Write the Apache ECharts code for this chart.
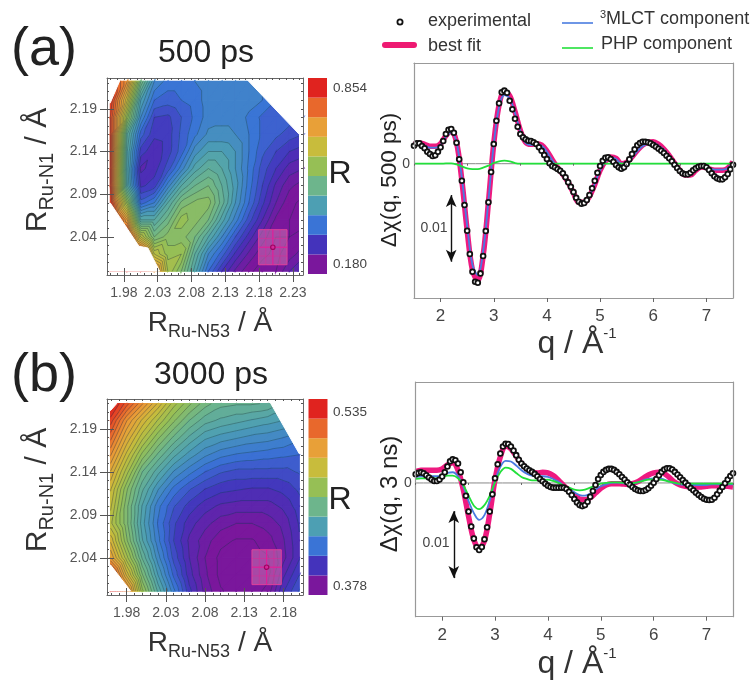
<!DOCTYPE html>
<html><head><meta charset="utf-8">
<style>html,body{margin:0;padding:0;background:#fff}#c{width:756px;height:680px}</style>
<script src="https://cdn.jsdelivr.net/npm/echarts@6/dist/echarts.min.js"></script>
</head><body><div id="c"></div>
<script>
// ---------- data: R maps ----------
const mapAx=[1.96,1.985,2.005,2.025,2.045,2.065,2.085,2.105,2.125,2.145,2.165,2.185,2.205,2.225,2.245];
const mapAy=[2.222,2.20,2.18,2.16,2.14,2.12,2.10,2.08,2.06,2.04,2.02,2.00];
const mapAr=[
[.80,.70,.50,.38,.35,.35,.36,.37,.37,.37,.37,.36,.35,.34,.33],
[.80,.62,.42,.34,.33,.34,.35,.37,.375,.375,.37,.36,.34,.33,.33],
[.78,.55,.38,.30,.295,.32,.345,.37,.375,.375,.355,.335,.335,.33,.32],
[.78,.46,.33,.285,.29,.325,.355,.385,.385,.38,.36,.335,.325,.31,.30],
[.78,.44,.29,.265,.29,.33,.39,.42,.42,.40,.36,.325,.30,.28,.27],
[.78,.43,.255,.27,.31,.37,.43,.46,.44,.40,.355,.31,.28,.25,.24],
[.78,.44,.275,.29,.37,.44,.48,.50,.46,.41,.35,.30,.255,.225,.21],
[.80,.55,.33,.36,.44,.505,.525,.53,.47,.40,.34,.285,.24,.205,.195],
[.85,.68,.44,.44,.49,.55,.53,.50,.43,.37,.31,.26,.215,.20,.19],
[.85,.80,.60,.50,.53,.53,.50,.44,.38,.32,.27,.23,.20,.20,.21],
[.85,.85,.78,.60,.55,.56,.46,.38,.33,.275,.235,.205,.195,.21,.23],
[.85,.85,.85,.72,.58,.52,.43,.34,.28,.235,.205,.19,.20,.24,.27]];
const mapBx=[1.9596,1.98,2.00,2.02,2.04,2.06,2.08,2.10,2.12,2.14,2.16,2.18,2.2002];
const mapBy=[2.2195,2.20,2.18,2.16,2.14,2.12,2.10,2.08,2.06,2.04,2.02,2.0012];
const mapBr=[
[.53,.515,.50,.485,.47,.46,.452,.447,.446,.446,.445,.44,.435],
[.52,.50,.485,.472,.46,.45,.443,.44,.438,.436,.434,.432,.43],
[.51,.49,.474,.46,.449,.44,.433,.43,.428,.426,.425,.423,.42],
[.50,.48,.462,.449,.438,.43,.424,.42,.418,.417,.416,.415,.414],
[.49,.47,.45,.438,.427,.42,.414,.41,.408,.408,.408,.408,.41],
[.482,.46,.442,.428,.417,.41,.405,.402,.401,.40,.40,.402,.406],
[.478,.456,.436,.42,.41,.403,.398,.395,.394,.394,.394,.397,.403],
[.474,.456,.434,.418,.406,.398,.393,.389,.387,.387,.389,.393,.401],
[.485,.46,.437,.42,.405,.395,.389,.384,.382,.382,.385,.391,.40],
[.495,.47,.445,.425,.408,.396,.387,.381,.38,.38,.382,.39,.40],
[.52,.485,.455,.432,.413,.398,.388,.381,.379,.379,.381,.395,.405],
[.535,.505,.465,.44,.42,.402,.39,.383,.38,.38,.384,.40,.41]];
const maskA=[
[[1.955,2.0798],[1.9598,2.0798],[2.0022,2.0291],[2.0155,2.0271],[2.0328,2.0],[1.955,2.0]],
[[1.955,2.226],[1.9736,2.226],[1.9736,2.2223],[1.9598,2.1969],[1.955,2.1969]],
[[2.16,2.226],[2.245,2.226],[2.245,2.1598],[2.2398,2.1598]],
[[2.2398,2.16],[2.245,2.16],[2.245,1.9955],[2.2398,1.9955]]];
const maskB=[
[[1.955,2.0315],[1.9596,2.0315],[1.9851,2.0012],[1.955,2.0012]],
[[1.955,2.225],[1.9672,2.225],[1.9672,2.2195],[1.9596,2.2117],[1.955,2.2117]],
[[2.1607,2.225],[2.205,2.225],[2.205,2.1613],[2.2002,2.1613]]];
const bestA=[2.2004,2.028], bestAh=[.021,.0205];
const bestB=[2.1586,2.029], bestBh=[.0187,.0203];
const palette=['#7a179c','#4433bb','#3a74d6','#4d9fb3','#6db58c','#96bf55','#c8bc3c','#e8a038','#e8682c','#e0231f'];
const rangeA=[.18,.854], rangeB=[.378,.535];
const levelStepA=.02, levelStepB=.0045;
const ticksAx=[1.98,2.03,2.08,2.13,2.18,2.23], ticksAy=[2.04,2.09,2.14,2.19];
const ticksBx=[1.98,2.03,2.08,2.13,2.18], ticksBy=[2.04,2.09,2.14,2.19];
const minorAx=[1.96,1.97,1.99,2.00,2.01,2.02,2.04,2.05,2.06,2.07,2.09,2.10,2.11,2.12,2.14,2.15,2.16,2.17,2.19,2.20,2.21,2.22,2.24];
const minorAy=[2.00,2.01,2.02,2.03,2.05,2.06,2.07,2.08,2.10,2.11,2.12,2.13,2.15,2.16,2.17,2.18,2.20,2.21,2.22];
const minorBx=[1.96,1.97,1.99,2.00,2.01,2.02,2.04,2.05,2.06,2.07,2.09,2.10,2.11,2.12,2.14,2.15,2.16,2.17,2.19,2.20];
// ---------- data: delta-chi curves (units of 0.001) ----------
const qExp=[1.5,1.55,1.6,1.65,1.7,1.75,1.8,1.85,1.9,1.95,2,2.05,2.1,2.15,2.2,2.25,2.3,2.35,2.4,2.45,2.5,2.55,2.6,2.65,2.7,2.75,2.8,2.85,2.9,2.95,3,3.05,3.1,3.15,3.2,3.25,3.3,3.35,3.4,3.45,3.5,3.55,3.6,3.65,3.7,3.75,3.8,3.85,3.9,3.95,4,4.05,4.1,4.15,4.2,4.25,4.3,4.35,4.4,4.45,4.5,4.55,4.6,4.65,4.7,4.75,4.8,4.85,4.9,4.95,5,5.05,5.1,5.15,5.2,5.25,5.3,5.35,5.4,5.45,5.5,5.55,5.6,5.65,5.7,5.75,5.8,5.85,5.9,5.95,6,6.05,6.1,6.15,6.2,6.25,6.3,6.35,6.4,6.45,6.5,6.55,6.6,6.65,6.7,6.75,6.8,6.85,6.9,6.95,7,7.05,7.1,7.15,7.2,7.25,7.3,7.35,7.4,7.45,7.5];
const qFit=[1.5,1.6,1.7,1.8,1.9,2,2.1,2.2,2.3,2.4,2.5,2.6,2.7,2.8,2.9,3,3.1,3.2,3.3,3.4,3.5,3.6,3.7,3.8,3.9,4,4.1,4.2,4.3,4.4,4.5,4.6,4.7,4.8,4.9,5,5.1,5.2,5.3,5.4,5.5,5.6,5.7,5.8,5.9,6,6.1,6.2,6.3,6.4,6.5,6.6,6.7,6.8,6.9,7,7.1,7.2,7.3,7.4,7.5];
const expA=[2.7,3.05,3.05,2.65,2.3,1.8,1.45,1.15,1.25,1.8,2.45,3.4,4.45,5.1,5.2,4.65,3.15,.65,-2.55,-6.2,-10.05,-13.55,-16.2,-17.7,-17.85,-16.45,-13.85,-10.1,-5.8,-1.25,2.95,6.45,9.05,10.7,10.95,10.65,9.45,8.15,6.75,5.55,4.45,3.95,3.65,3.45,3.4,3.2,2.95,2.45,1.95,1.3,.7,.05,-.35,-.55,-.8,-1.05,-1.45,-2.05,-2.8,-3.45,-4.25,-5.1,-5.7,-6,-5.9,-5.45,-4.7,-3.7,-2.55,-1.35,-.35,.45,.9,.95,.7,.3,-.2,-.55,-.75,-.55,-.05,.65,1.45,2.15,2.75,3.1,3.3,3.3,3.2,3.05,2.8,2.55,2.25,1.95,1.6,1.2,.8,.35,-.15,-.65,-1.1,-1.45,-1.6,-1.6,-1.35,-1,-.7,-.45,-.35,-.35,-.55,-.95,-1.45,-1.9,-2.2,-2.35,-2.35,-2.05,-1.55,-.85,-.15];
const fitA=[2.9,3.1,2.9,2.6,2.6,3,4.2,4.9,3.2,-2.5,-10,-16,-17.5,-13.8,-5.8,3,8.8,10.8,10.2,7.8,5,3.2,2.9,3,2.8,1.9,.6,-.6,-1.6,-2.8,-4.4,-5.8,-5.8,-4.9,-3.1,-1,.4,1,.8,0,.2,1,2,2.8,3.2,3.3,2.9,2.2,1.2,.1,-1,-1.7,-1.7,-1,-.5,-.6,-.9,-1,-1,-.7,.3];
const mlctA=[2.7,2.9,2.7,2.4,2.4,2.8,4,4.7,3.2,-2.1,-9.3,-15.2,-16.7,-13.2,-5.5,2.9,8.5,10.3,9.8,7.6,4.9,3.1,2.8,2.9,2.7,1.8,.5,-.6,-1.6,-2.8,-4.3,-5.7,-5.7,-4.8,-3,-1,.3,.9,.7,0,.1,.9,1.9,2.6,3,3.1,2.7,2.1,1.1,.1,-1,-1.6,-1.6,-1,-.5,-.6,-.8,-.9,-.9,-.7,.2];
const phpA=[0,0,0,0,0,0,.05,.05,-.1,-.4,-.7,-.8,-.8,-.6,-.3,.1,.35,.45,.35,.1,0,0,0,0,0,0,0,0,0,0,0,0,0,0,0,0,0,0,0,0,0,0,0,0,0,0,0,0,0,0,0,0,0,0,0,0,0,0,0,0,0];
const expB=[1.3,1.5,1.6,1.45,1.15,.8,.5,.3,.3,.5,.95,1.6,2.45,3.25,3.55,3.4,2.9,1.6,.1,-1.9,-4.25,-6.5,-8.3,-9.6,-10,-9.55,-8.4,-6.6,-4.25,-1.7,.7,2.8,4.4,5.45,5.85,5.8,5.45,4.85,4.15,3.45,2.9,2.5,2.15,1.9,1.65,1.35,1,.6,.25,-.1,-.4,-.6,-.7,-.7,-.7,-.7,-.7,-.9,-1.3,-1.8,-2.4,-2.9,-3.3,-3.45,-3.3,-2.8,-2.05,-1.2,-.3,.6,1.2,1.65,1.95,2.1,2.1,1.95,1.65,1.3,.9,.5,.1,-.25,-.6,-.9,-1.1,-1.2,-1.2,-1.05,-.8,-.4,.05,.6,1.15,1.65,2,2.2,2.2,2,1.65,1.25,.85,.45,.05,-.35,-.75,-1.1,-1.45,-1.8,-2.1,-2.35,-2.5,-2.55,-2.5,-2.2,-1.7,-1.15,-.6,-.05,.5,1.05,1.45];
const fitB=[1.7,1.9,1.9,1.9,1.9,2.1,2.7,3,1.9,-1,-5,-8.5,-9.8,-8.6,-4.6,.5,3.9,5.5,5.1,4,2.9,2.1,1.6,1.5,1.6,1.5,1.1,.4,-.4,-1.1,-1.8,-2.4,-2.5,-2.2,-1.5,-.8,-.3,-.1,-.1,-.15,-.2,-.1,.2,.7,1.2,1.5,1.6,1.4,.8,.1,-.3,-.5,-.6,-.6,-.6,-.5,-.4,-.4,-.4,-.5,-.6];
const mlctB=[.9,1,1,1,1,1.2,1.5,1.6,1,-.5,-2.7,-4.5,-5.5,-4.8,-2.6,.3,2.4,3.3,3.2,2.6,1.9,1.4,1.1,1,1,.9,.6,.2,-.4,-.9,-1.4,-1.8,-1.9,-1.6,-1,-.5,-.2,0,.05,0,-.1,-.05,.1,.4,.6,.7,.7,.5,.2,-.05,-.2,-.3,-.3,-.3,-.3,-.3,-.2,-.2,-.2,-.2,-.2];
const phpB=[.6,.7,.7,.7,.7,.9,1.1,1.1,.7,-.3,-1.9,-3.4,-3.9,-3.3,-1.9,.1,1.6,2.3,2.1,1.5,.9,.6,.4,.4,.45,.5,.3,0,-.4,-.7,-1,-1.1,-1,-.7,-.4,-.1,0,.1,.1,.05,0,0,.1,.3,.5,.55,.5,.4,.2,.05,-.1,-.1,-.1,-.1,-.1,-.1,-.1,-.1,-.1,-.1,-.1];
const qMajor=[2,3,4,5,6,7], qMinor=[1.5,2.5,3.5,4.5,5.5,6.5,7.5];
const titlesTxt={a:'(a)',b:'(b)',ta:'500 ps',tb:'3000 ps',ya:'Δχ(q, 500 ps)',yb:'Δχ(q, 3 ns)'};

// ---------- helpers ----------
const FF='"Liberation Sans",Arial,sans-serif';
function hex(c){return [1,3,5].map(i=>parseInt(c.substr(i,2),16));}
function colorAt(t){
  const n=palette.length,p=Math.max(0,Math.min(n-1,t*n-.5)),i=Math.floor(p),f=p-i;
  const a=hex(palette[i]),b=hex(palette[Math.min(n-1,i+1)]);
  return 'rgb('+a.map((v,k)=>Math.round(v+(b[k]-v)*f)).join(',')+')';
}
function triangles(xs,ys,rs){
  const t=[];
  for(let j=0;j<ys.length-1;j++)for(let i=0;i<xs.length-1;i++){
    const P=(a,b)=>[xs[a],ys[b],rs[b][a]];
    t.push([P(i,j),P(i+1,j),P(i,j+1)]);
    t.push([P(i+1,j),P(i+1,j+1),P(i,j+1)]);
  }
  return t;
}
function clipZ(poly,L,keepAbove){
  const out=[];
  for(let i=0;i<poly.length;i++){
    const a=poly[i],b=poly[(i+1)%poly.length];
    const ina=keepAbove?a[2]>=L:a[2]<=L, inb=keepAbove?b[2]>=L:b[2]<=L;
    if(ina)out.push(a);
    if(ina!==inb){const f=(L-a[2])/(b[2]-a[2]);out.push([a[0]+(b[0]-a[0])*f,a[1]+(b[1]-a[1])*f,L]);}
  }
  return out;
}
function levels(range,step){const l=[];const n=Math.ceil((range[1]-range[0])/step);for(let i=-1;i<=n+1;i++)l.push(range[0]+i*step);return l;}
function mapSeries(xs,ys,rs,range,step,mask,best,bh,idx){
  const tris=triangles(xs,ys,rs),ls=levels(range,step);
  const base={type:'custom',coordinateSystem:'cartesian2d',xAxisIndex:idx,yAxisIndex:idx,silent:true,clip:false,animation:false};
  return [
    Object.assign({},base,{name:'R fill',z:2,data:tris.map((_,i)=>[i]),encode:{x:-1,y:-1},
      renderItem(p,api){
        const tr=tris[api.value(0)],ch=[];
        const zmin=Math.min(tr[0][2],tr[1][2],tr[2][2]),zmax=Math.max(tr[0][2],tr[1][2],tr[2][2]);
        for(let k=0;k<ls.length-1;k++){
          if(ls[k+1]<zmin||ls[k]>zmax)continue;
          const g=clipZ(clipZ(tr,ls[k],true),ls[k+1],false);
          if(g.length<3)continue;
          const col=colorAt(((ls[k]+ls[k+1])/2-range[0])/(range[1]-range[0]));
          ch.push({type:'polygon',shape:{points:g.map(v=>api.coord([v[0],v[1]]))},style:{fill:col,stroke:col,lineWidth:1.2}});
        }
        return {type:'group',children:ch};
      }}),
    Object.assign({},base,{name:'R contours',z:3,data:tris.map((_,i)=>[i]),encode:{x:-1,y:-1},
      renderItem(p,api){
        const tr=tris[api.value(0)],ch=[];
        ls.forEach(L=>{
          const pts=[];
          for(let i=0;i<3;i++){const a=tr[i],b=tr[(i+1)%3];
            if((a[2]<L)!==(b[2]<L)){const f=(L-a[2])/(b[2]-a[2]);pts.push(api.coord([a[0]+(b[0]-a[0])*f,a[1]+(b[1]-a[1])*f]));}}
          if(pts.length===2)ch.push({type:'line',shape:{x1:pts[0][0],y1:pts[0][1],x2:pts[1][0],y2:pts[1][1]},style:{stroke:'rgba(20,50,70,.45)',lineWidth:.8}});
        });
        return {type:'group',children:ch};
      }}),
    Object.assign({},base,{name:'mask',z:4,data:mask.map((_,i)=>[i]),encode:{x:-1,y:-1},
      renderItem(p,api){return {type:'polygon',shape:{points:mask[api.value(0)].map(v=>api.coord(v))},style:{fill:'#fff',stroke:'#fff',lineWidth:1}};}}),
    Object.assign({},base,{name:'best',z:5,data:[[best[0],best[1],bh[0],bh[1]]],
      renderItem(p,api){
        const x=api.value(0),y=api.value(1),w=api.value(2),h=api.value(3);
        const c=(a,b)=>api.coord([a,b]);
        const tl=c(x-w,y+h),br=c(x+w,y-h),ct=c(x,y);
        const L=(a,b,lw,col)=>({type:'line',shape:{x1:a[0],y1:a[1],x2:b[0],y2:b[1]},style:{stroke:col,lineWidth:lw}});
        const W=br[0]-tl[0],H=br[1]-tl[1],ch=[
          {type:'rect',shape:{x:tl[0],y:tl[1],width:W,height:H},style:{fill:'rgba(205,115,175,.55)',stroke:'#e0409a',lineWidth:1}},
          L([tl[0]+W*.25,tl[1]],[tl[0]+W*.25,br[1]],.8,'rgba(224,40,150,.6)'),
          L([tl[0]+W*.75,tl[1]],[tl[0]+W*.75,br[1]],.8,'rgba(224,40,150,.6)'),
          L([tl[0],tl[1]+H*.25],[br[0],tl[1]+H*.25],.8,'rgba(224,40,150,.6)'),
          L([tl[0],tl[1]+H*.75],[br[0],tl[1]+H*.75],.8,'rgba(224,40,150,.6)'),
          L([ct[0],tl[1]],[ct[0],br[1]],1.2,'#e0209a'),
          L([tl[0],ct[1]],[br[0],ct[1]],1.2,'#e0209a'),
          {type:'circle',shape:{cx:ct[0],cy:ct[1],r:2.2},style:{fill:'rgba(0,0,0,0)',stroke:'#a00060',lineWidth:1.2}}];
        return {type:'group',children:ch};
      }})
  ];
}
function fmt2(v){return v.toFixed(2);}
const grids=[],xAxes=[],yAxes=[],series=[];
const frameCol='#666', lineFrame='#999';
function addMap(rect,xr,yr,tx,ty,mx,my,xs,ys,rs,range,step,mask,best,bh){
  const i=grids.length;
  grids.push(Object.assign({},rect,{containLabel:false}));
  const lab={fontFamily:FF,fontSize:14,color:'#555'};
  xAxes.push({gridIndex:i,type:'value',position:'bottom',min:xr[0],max:xr[1],z:10,splitLine:{show:false},axisLine:{onZero:false,lineStyle:{color:frameCol}},
    axisTick:{customValues:tx,length:7,lineStyle:{color:'#555'}},axisLabel:{customValues:tx,formatter:fmt2,margin:11,...lab}});
  yAxes.push({gridIndex:i,type:'value',position:'left',min:yr[0],max:yr[1],z:10,splitLine:{show:false},axisLine:{onZero:false,lineStyle:{color:frameCol}},
    axisTick:{customValues:ty,length:7,lineStyle:{color:'#555'}},axisLabel:{customValues:ty,formatter:fmt2,margin:10,...lab}});
  mapSeries(xs,ys,rs,range,step,mask,best,bh,i).forEach(s=>series.push(s));
  const j=grids.length;
  grids.push(Object.assign({},rect));
  const minor=(v)=>({customValues:v,length:2,inside:true,lineStyle:{color:'#555'}});
  xAxes.push({gridIndex:j,type:'value',position:'top',min:xr[0],max:xr[1],z:10,splitLine:{show:false},axisLine:{onZero:false,lineStyle:{color:frameCol}},
    axisTick:minor(mx.concat(tx)),axisLabel:{show:false}});
  yAxes.push({gridIndex:j,type:'value',position:'right',min:yr[0],max:yr[1],z:10,splitLine:{show:false},axisLine:{onZero:false,lineStyle:{color:frameCol}},
    axisTick:minor(my.concat(ty)),axisLabel:{show:false}});
  const k=grids.length;
  grids.push(Object.assign({},rect));
  xAxes.push({gridIndex:k,type:'value',position:'bottom',min:xr[0],max:xr[1],z:10,splitLine:{show:false},axisLine:{show:false},
    axisTick:{customValues:mx,length:2,inside:true,lineStyle:{color:'#555'}},axisLabel:{show:false}});
  yAxes.push({gridIndex:k,type:'value',position:'left',min:yr[0],max:yr[1],z:10,splitLine:{show:false},axisLine:{show:false},
    axisTick:{customValues:my,length:2,inside:true,lineStyle:{color:'#555'}},axisLabel:{show:false}});
  series.push({type:'line',xAxisIndex:j,yAxisIndex:j,data:[],silent:true});
  series.push({type:'line',xAxisIndex:k,yAxisIndex:k,data:[],silent:true});
  const k2=grids.length;
  grids.push(Object.assign({},rect));
  xAxes.push({gridIndex:k2,type:'value',position:'bottom',min:xr[0],max:xr[1],z:10,splitLine:{show:false},axisLine:{show:false},
    axisTick:{customValues:tx,length:7,inside:true,lineStyle:{color:'#555'}},axisLabel:{show:false}});
  yAxes.push({gridIndex:k2,type:'value',position:'left',min:yr[0],max:yr[1],z:10,splitLine:{show:false},axisLine:{show:false},
    axisTick:{customValues:ty,length:7,inside:true,lineStyle:{color:'#555'}},axisLabel:{show:false}});
  series.push({type:'line',xAxisIndex:k2,yAxisIndex:k2,data:[],silent:true});
}
function addBar(rect){
  const i=grids.length,cats=palette.map((_,n)=>n);
  grids.push(rect);
  xAxes.push({gridIndex:i,type:'value',min:0,max:1,show:false});
  yAxes.push({gridIndex:i,type:'category',data:cats,show:false});
  series.push({type:'bar',name:'scale',xAxisIndex:i,yAxisIndex:i,barWidth:'100%',silent:true,
    data:palette.map(c=>({value:1,itemStyle:{color:c}}))});
}
function addCurve(rect,yr,qe,e,f,m,ph,arrow){
  const i=grids.length;
  grids.push(rect);
  const lab={fontFamily:FF,color:'#444'};
  xAxes.push({gridIndex:i,type:'value',position:'bottom',min:1.5,max:7.5,z:10,splitLine:{show:false},axisLine:{onZero:false,lineStyle:{color:lineFrame,width:1.2}},
    axisTick:{customValues:qMajor,length:4,lineStyle:{color:'#666'}},axisLabel:{customValues:qMajor,fontSize:17,margin:10,...lab}});
  yAxes.push({gridIndex:i,type:'value',position:'left',min:yr[0],max:yr[1],z:10,splitLine:{show:false},axisLine:{onZero:false,lineStyle:{color:lineFrame,width:1.2}},
    axisTick:{show:false},axisLabel:{customValues:[0],fontSize:14,margin:4,...lab}});
  const pair=(q,v)=>q.map((x,n)=>[x,v[n]]);
  const ln=(name,q,v,col,w,z)=>({type:'line',name,xAxisIndex:i,yAxisIndex:i,data:pair(q,v),smooth:.35,showSymbol:false,symbol:'none',silent:true,z,lineStyle:{color:col,width:w}});
  series.push(ln('zero',[1.5,7.5],[0,0],'#888',1,2));
  series.push(Object.assign(ln('best fit',qFit,f,'#ee1a80',5.5,3),{
    markLine:{silent:true,animation:false,symbol:['arrow','arrow'],symbolSize:[8,12],label:{show:false},lineStyle:{color:'#111',width:1.4,type:'solid'},
      data:[[{coord:[arrow[0],arrow[1]]},{coord:[arrow[0],arrow[2]]}]]}}));
  series.push(ln('3MLCT component',qFit,m,'#4a7be0',1.8,4));
  series.push(ln('PHP component',qFit,ph,'#22e03a',1.8,5));
  series.push({type:'scatter',name:'experimental',xAxisIndex:i,yAxisIndex:i,data:pair(qe,e),symbol:'circle',symbolSize:4.8,silent:true,z:6,
    itemStyle:{color:'#fff',borderColor:'#111',borderWidth:1.8,opacity:1}});
  const j=grids.length;
  grids.push(rect);
  xAxes.push({gridIndex:j,type:'value',position:'top',min:1.5,max:7.5,z:10,splitLine:{show:false},axisLine:{onZero:false,lineStyle:{color:lineFrame,width:1.2}},axisTick:{show:false},axisLabel:{show:false}});
  yAxes.push({gridIndex:j,type:'value',position:'right',min:yr[0],max:yr[1],z:10,splitLine:{show:false},axisLine:{onZero:false,lineStyle:{color:lineFrame,width:1.2}},axisTick:{show:false},axisLabel:{show:false}});
  series.push({type:'line',xAxisIndex:j,yAxisIndex:j,data:[],silent:true});
  const k=grids.length;
  grids.push(rect);
  xAxes.push({gridIndex:k,type:'value',position:'bottom',min:1.5,max:7.5,z:10,splitLine:{show:false},axisLine:{show:false},axisTick:{customValues:qMinor,length:2,lineStyle:{color:'#666'}},axisLabel:{show:false}});
  yAxes.push({gridIndex:k,type:'value',position:'left',min:yr[0],max:yr[1],show:false});
  series.push({type:'line',xAxisIndex:k,yAxisIndex:k,data:[],silent:true});
}
const rr=(l,t,r,b)=>({left:l,top:t,width:r-l,height:b-t});
addMap(rr(107,78,303,275),[1.955,2.245],[1.9955,2.226],ticksAx,ticksAy,minorAx,minorAy,mapAx,mapAy,mapAr,rangeA,levelStepA,maskA,bestA,bestAh);
addMap(rr(107,399,303,595),[1.955,2.205],[1.9966,2.225],ticksBx,ticksBy,minorBx,minorAy,mapBx,mapBy,mapBr,rangeB,levelStepB,maskB,bestB,bestBh);
addBar(rr(308,78,327,274));
addBar(rr(308.5,399,327.5,595));
addCurve(rr(414,63,733,298),[-20.14,15.1],qExp,expA,fitA,mlctA,phpA,[2.2,-4.7,-14.7]);
addCurve(rr(415.7,382,733,616.7),[-19.96,15.07],qExp,expB,fitB,mlctB,phpB,[2.22,-4.2,-14.2]);

function txt(x,y,text,size,opt){
  return Object.assign({type:'text',x,y,silent:true,z:20,style:Object.assign({text,fontFamily:FF,fontSize:size,fill:'#222',align:'center',verticalAlign:'middle'},(opt||{}).style||{})},opt&&opt.rotation?{rotation:opt.rotation}:{});
}
const axisRich=(a,b)=>({style:{rich:{
  r:{fontFamily:FF,fontSize:a,fill:'#333',verticalAlign:'middle',lineHeight:a+8},
  s:{fontFamily:FF,fontSize:b,fill:'#333',verticalAlign:'bottom',lineHeight:a+8}}}});
const qRich={style:{rich:{
  r:{fontFamily:FF,fontSize:32,fill:'#333',verticalAlign:'middle',lineHeight:36},
  s:{fontFamily:FF,fontSize:15,fill:'#333',verticalAlign:'top',lineHeight:36}}}};
const rot=Math.PI/2;
const lg={style:{align:'left',fill:'#333'}};
const graphic=[
  txt(44,50,titlesTxt.a,54),
  txt(44,376,titlesTxt.b,54),
  txt(206,53,titlesTxt.ta,32),
  txt(211,375,titlesTxt.tb,32),
  txt(340,174,'R',32),
  txt(340,500,'R',32),
  txt(350,88,'0.854',13.5,{style:{fill:'#444'}}),
  txt(350,264,'0.180',13.5,{style:{fill:'#444'}}),
  txt(350,412,'0.535',13.5,{style:{fill:'#444'}}),
  txt(350,586,'0.378',13.5,{style:{fill:'#444'}}),
  Object.assign(txt(38,170,'{r|R}{s|Ru-N1}{r| / Å}',20,axisRich(30,20)),{rotation:rot}),
  Object.assign(txt(38,490,'{r|R}{s|Ru-N1}{r| / Å}',20,axisRich(30,20)),{rotation:rot}),
  txt(210,323,'{r|R}{s|Ru-N53}{r| / Å}',20,axisRich(28,18)),
  txt(210,643,'{r|R}{s|Ru-N53}{r| / Å}',20,axisRich(28,18)),
  Object.assign(txt(390,180,titlesTxt.ya,22.5),{rotation:rot}),
  Object.assign(txt(390,494,titlesTxt.yb,24),{rotation:rot}),
  txt(577,344,'{r|q / Å}{s|-1}',30,qRich),
  txt(577,664,'{r|q / Å}{s|-1}',30,qRich),
  txt(434,228,'0.01',14,{style:{fill:'#444'}}),
  txt(436,543,'0.01',14,{style:{fill:'#444'}}),
  {type:'circle',silent:true,z:20,shape:{cx:400,cy:22,r:2.6},style:{fill:'#fff',stroke:'#111',lineWidth:1.8}},
  {type:'line',silent:true,z:20,shape:{x1:385,y1:45,x2:414,y2:45},style:{stroke:'#ee1a72',lineWidth:6,lineCap:'round'}},
  {type:'line',silent:true,z:20,shape:{x1:562,y1:23,x2:593,y2:23},style:{stroke:'#4a7be0',lineWidth:1.6}},
  {type:'line',silent:true,z:20,shape:{x1:562,y1:48,x2:593,y2:48},style:{stroke:'#22e03a',lineWidth:1.6}},
  txt(428,21,'experimental',18,lg),
  txt(428,46,'best fit',18,lg),
  txt(600,19,'{u|3}{r|MLCT component}',18,{style:{align:'left',rich:{
    u:{fontFamily:FF,fontSize:11,fill:'#333',verticalAlign:'top',lineHeight:20},
    r:{fontFamily:FF,fontSize:18,fill:'#333',verticalAlign:'middle',lineHeight:20}}}}),
  txt(601,44,'PHP component',18,lg)
];
const chart=echarts.init(document.getElementById('c'),null,{renderer:'canvas',width:756,height:680});
chart.setOption({animation:false,backgroundColor:'#fff',grid:grids,xAxis:xAxes,yAxis:yAxes,series,graphic:{elements:graphic}});
</script></body></html>
